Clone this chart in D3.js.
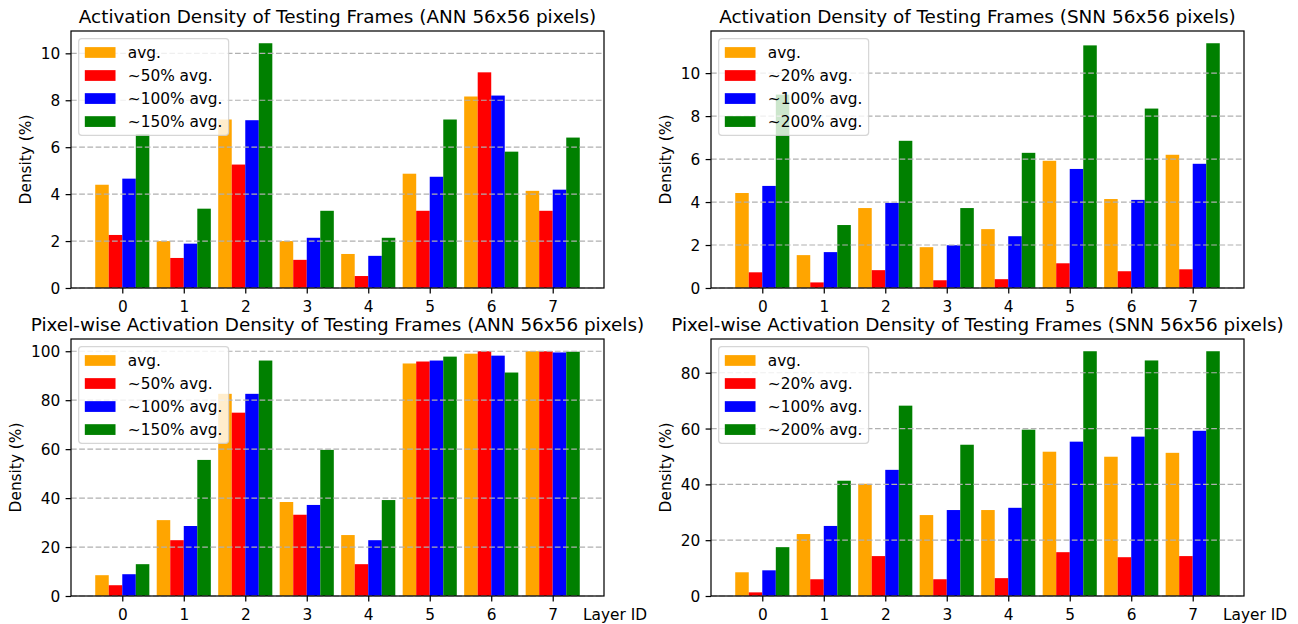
<!DOCTYPE html>
<html>
<head>
<meta charset="utf-8">
<script src="https://cdn.jsdelivr.net/npm/d3@7"></script>
<style>
  html, body { margin: 0; padding: 0; background: #fff; }
  svg { display: block; font-family: "DejaVu Sans", sans-serif; }
</style>
</head>
<body>
<svg id="chart" width="1298" height="624"></svg>
<script>
// ---------------- data ----------------
const layers = [0, 1, 2, 3, 4, 5, 6, 7];
const seriesColors = ["orange", "red", "blue", "green"];

const annLabels = ["avg.", "~50% avg.", "~100% avg.", "~150% avg."];
const snnLabels = ["avg.", "~20% avg.", "~100% avg.", "~200% avg."];

// Activation density (ANN)
const annDensityAvg  = [4.40, 2.00, 7.18, 2.00, 1.45, 4.87, 8.16, 4.14];
const annDensity50   = [2.26, 1.28, 5.26, 1.20, 0.51, 3.29, 9.19, 3.29];
const annDensity100  = [4.66, 1.89, 7.15, 2.14, 1.37, 4.74, 8.20, 4.19];
const annDensity150  = [6.55, 3.38, 10.43, 3.29, 2.14, 7.18, 5.81, 6.41];

// Activation density (SNN)
const snnDensityAvg  = [4.42, 1.53, 3.72, 1.90, 2.74, 5.92, 4.14, 6.20];
const snnDensity20   = [0.73, 0.26, 0.83, 0.36, 0.41, 1.15, 0.78, 0.87];
const snnDensity100  = [4.75, 1.67, 3.96, 1.99, 2.41, 5.54, 4.10, 5.78];
const snnDensity200  = [9.00, 2.93, 6.85, 3.72, 6.29, 11.29, 8.35, 11.39];

// Pixel-wise activation density (ANN)
const annPixelAvg    = [8.5, 31.0, 82.6, 38.4, 24.9, 95.0, 99.0, 100.0];
const annPixel50     = [4.4, 22.8, 74.9, 33.2, 13.0, 95.8, 100.0, 100.0];
const annPixel100    = [8.9, 28.6, 82.6, 37.2, 22.8, 96.2, 98.2, 99.5];
const annPixel150    = [13.0, 55.6, 96.2, 59.7, 39.2, 97.8, 91.3, 99.8];

// Pixel-wise activation density (SNN)
const snnPixelAvg    = [8.5, 22.2, 40.2, 29.0, 30.8, 51.7, 49.9, 51.3];
const snnPixel20     = [1.3, 6.0, 14.3, 6.0, 6.4, 15.7, 13.9, 14.3];
const snnPixel100    = [9.2, 25.1, 45.2, 30.8, 31.6, 55.3, 57.1, 59.2];
const snnPixel200    = [17.5, 41.3, 68.2, 54.2, 59.6, 87.7, 84.4, 87.7];

const titles = [
  "Activation Density of Testing Frames (ANN 56x56 pixels)",
  "Activation Density of Testing Frames (SNN 56x56 pixels)",
  "Pixel-wise Activation Density of Testing Frames (ANN 56x56 pixels)",
  "Pixel-wise Activation Density of Testing Frames (SNN 56x56 pixels)"
];
const yTicksDensity = [0, 2, 4, 6, 8, 10];
const yTicksPixelAnn = [0, 20, 40, 60, 80, 100];
const yTicksPixelSnn = [0, 20, 40, 60, 80];
const yLabel = "Density (%)";
const xLabel = "Layer ID";

// ---------------- layout ----------------
const FS = 15.35;      // 10pt
const TFS = 18.4;      // 12pt
const panels = [
  { title: titles[0], series: [annDensityAvg, annDensity50, annDensity100, annDensity150], labels: annLabels, yTicks: yTicksDensity, box: {l: 71, r: 604, t: 31, b: 288}, xlab: false },
  { title: titles[1], series: [snnDensityAvg, snnDensity20, snnDensity100, snnDensity200], labels: snnLabels, yTicks: yTicksDensity, box: {l: 711, r: 1244, t: 31, b: 288}, xlab: false },
  { title: titles[2], series: [annPixelAvg, annPixel50, annPixel100, annPixel150], labels: annLabels, yTicks: yTicksPixelAnn, box: {l: 71, r: 604, t: 339, b: 596}, xlab: true },
  { title: titles[3], series: [snnPixelAvg, snnPixel20, snnPixel100, snnPixel200], labels: snnLabels, yTicks: yTicksPixelSnn, box: {l: 711, r: 1244, t: 339, b: 596}, xlab: true }
];

const svg = d3.select("#chart");
const barW = 0.22;
const nS = 4;

panels.forEach(p => {
  const B = p.box;
  const g = svg.append("g");

  // x scale (matplotlib-like 5% margins)
  const lo = d3.min(layers) - nS / 2 * barW;
  const hi = d3.max(layers) + nS / 2 * barW;
  const m = (hi - lo) * 0.05;
  const x = d3.scaleLinear().domain([lo - m, hi + m]).range([B.l, B.r]);

  const ymaxData = d3.max(p.series.flat());
  const y = d3.scaleLinear().domain([0, ymaxData * 1.05]).range([B.b, B.t]);

  // bars
  p.series.forEach((vals, k) => {
    const off = (k - (nS - 1) / 2) * barW;
    g.append("g").selectAll("rect")
      .data(vals.map((v, i) => ({ v, i })))
      .join("rect")
      .attr("x", d => x(layers[d.i] + off - barW / 2))
      .attr("width", d => x(layers[d.i] + off + barW / 2) - x(layers[d.i] + off - barW / 2))
      .attr("y", d => y(d.v))
      .attr("height", d => y(0) - y(d.v))
      .attr("fill", seriesColors[k]);
  });

  // grid (above bars, like matplotlib)
  g.append("g").selectAll("line")
    .data(p.yTicks)
    .join("line")
    .attr("x1", B.l).attr("x2", B.r)
    .attr("y1", d => y(d)).attr("y2", d => y(d))
    .attr("stroke", "#b0b0b0")
    .attr("stroke-width", 1.2)
    .attr("stroke-dasharray", "5.7,2.5");

  // axes
  const xAxis = d3.axisBottom(x).tickValues(layers).tickFormat(d3.format("d"))
    .tickSize(5.4).tickPadding(5.4).tickSizeOuter(0);
  const gx = g.append("g").attr("transform", `translate(0,${B.b})`).call(xAxis);
  const yAxis = d3.axisLeft(y).tickValues(p.yTicks).tickFormat(d3.format("d"))
    .tickSize(5.4).tickPadding(5.4).tickSizeOuter(0);
  const gy = g.append("g").attr("transform", `translate(${B.l},0)`).call(yAxis);
  [gx, gy].forEach(a => {
    a.select(".domain").remove();
    a.selectAll(".tick line").attr("stroke", "#000").attr("stroke-width", 1.23);
    a.selectAll(".tick text").attr("fill", "#000").style("font-size", FS + "px")
      .style("font-family", "DejaVu Sans");
  });
  gx.selectAll(".tick text").attr("dy", null).attr("y", 23.5 - 0).attr("dominant-baseline", null)
    .attr("transform", null);
  gy.selectAll(".tick text").attr("dy", "0.36em");

  // spines
  g.append("rect")
    .attr("x", B.l).attr("y", B.t)
    .attr("width", B.r - B.l).attr("height", B.b - B.t)
    .attr("fill", "none").attr("stroke", "#000").attr("stroke-width", 1.23);

  // y label positioned left of widest tick label
  let maxW = 0;
  gy.selectAll(".tick text").each(function () { maxW = Math.max(maxW, this.getBBox().width); });
  const ylx = B.l - 5.4 - 5.4 - maxW - 6.1 - 3.6;
  g.append("text")
    .attr("transform", `translate(${ylx},${(B.t + B.b) / 2}) rotate(-90)`)
    .attr("text-anchor", "middle")
    .style("font-size", FS + "px")
    .attr("fill", "#000")
    .text(yLabel);

  // title
  g.append("text")
    .attr("x", (B.l + B.r) / 2)
    .attr("y", B.t - 8.5)
    .attr("text-anchor", "middle")
    .style("font-size", TFS + "px")
    .attr("fill", "#000")
    .text(p.title);

  // x label "Layer ID"
  if (p.xlab) {
    g.append("text")
      .attr("x", B.r - 21)
      .attr("y", B.b + 23.5)
      .style("font-size", FS + "px")
      .attr("fill", "#000")
      .text(xLabel);
  }

  // legend
  const pad = 0.4 * FS, hl = 2.0 * FS, hh = 0.7 * FS, htp = 0.8 * FS, ls = 0.5 * FS, rowH = FS;
  const lx = B.l + 0.5 * FS, ly = B.t + 0.5 * FS;
  const lg = g.append("g");
  const frame = lg.append("rect")
    .attr("x", lx).attr("y", ly)
    .attr("rx", 0.2 * FS).attr("ry", 0.2 * FS)
    .attr("fill", "#fff").attr("fill-opacity", 0.8)
    .attr("stroke", "#cccccc").attr("stroke-opacity", 0.8).attr("stroke-width", 1.23);
  let tw = 0;
  p.labels.forEach((lab, k) => {
    const cy = ly + pad + k * (rowH + ls) + rowH / 2;
    lg.append("rect")
      .attr("x", lx + pad).attr("y", cy - hh / 2)
      .attr("width", hl).attr("height", hh)
      .attr("fill", seriesColors[k]);
    const t = lg.append("text")
      .attr("x", lx + pad + hl + htp).attr("y", cy)
      .attr("dy", "0.36em")
      .style("font-size", FS + "px")
      .attr("fill", "#000")
      .text(lab);
    tw = Math.max(tw, t.node().getComputedTextLength());
  });
  frame.attr("width", pad * 2 + hl + htp + tw)
    .attr("height", pad * 2 + nS * rowH + (nS - 1) * ls);
});
</script>
</body>
</html>
